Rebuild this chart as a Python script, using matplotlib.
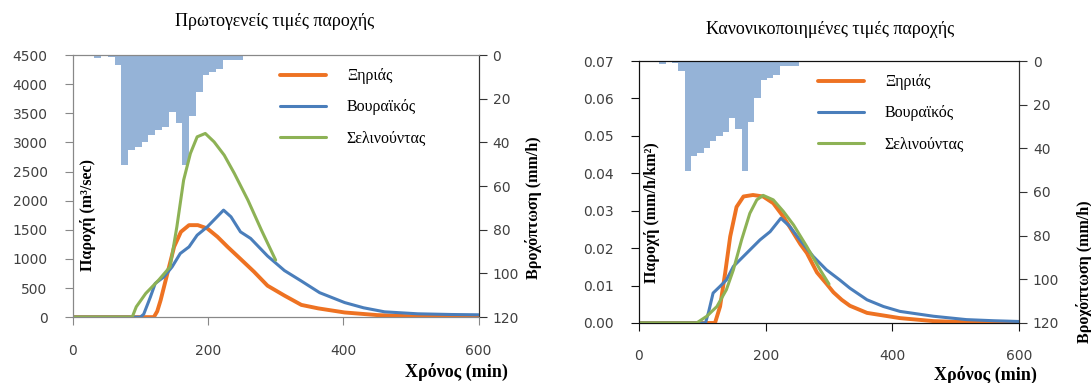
import matplotlib
matplotlib.use("Agg")
import matplotlib.pyplot as plt

# rainfall intensity (mm/h), bins of 10 min, same storm for both panels
rain_t = [32, 42, 52, 62, 72, 82, 92, 102, 112, 122, 132, 142, 152, 162,
          172, 182, 192, 202, 212, 222, 232, 242]
rain_i = [1.2, 0, 0.9, 4.7, 50.5, 43.4, 42.2, 39.9, 36.8, 34.5, 32.7, 26.1,
          31.2, 50.5, 28.1, 17.0, 8.9, 7.8, 6.3, 2.1, 2.1, 2.1]

# raw discharge (m3/sec)
xir_t = [0, 120, 125, 130, 140, 150, 160, 172, 185, 199, 214, 229, 248, 268,
         288, 313, 338, 363, 402, 450, 500, 550, 600]
xir_q = [0, 0, 100, 290, 750, 1210, 1465, 1580, 1580, 1523, 1380, 1207, 1000,
         780, 540, 370, 210, 150, 80, 35, 15, 8, 5]
vou_t = [0, 100, 105, 115, 122, 135, 147, 159, 172, 184, 199, 211, 223, 234,
         248, 263, 288, 313, 338, 365, 402, 430, 461, 510, 560, 600]
vou_q = [0, 0, 50, 349, 578, 692, 864, 1093, 1207, 1408, 1551, 1694, 1838,
         1723, 1465, 1352, 1050, 800, 620, 420, 250, 160, 91, 57, 45, 40]
sel_t = [0, 88, 94, 108, 127, 144, 154, 164, 174, 184, 196, 209, 224, 239,
         259, 279, 300]
sel_q = [0, 0, 177, 407, 635, 864, 1551, 2353, 2811, 3097, 3155, 3011, 2782,
         2468, 2010, 1494, 979]

# normalised discharge (mm/h/km2)
xir_tn = [0, 120, 128, 136, 144, 154, 165, 180, 196, 212, 228, 244, 255, 265,
          281, 296, 307, 320, 333, 360, 412, 465, 520, 600]
xir_qn = [0, 0, 0.0044, 0.0133, 0.0231, 0.031, 0.0338, 0.0342, 0.0338, 0.032,
          0.0284, 0.024, 0.021, 0.0187, 0.0135, 0.0105, 0.0082, 0.0062,
          0.0046, 0.0027, 0.0013, 0.0005, 0.0002, 0]
vou_tn = [0, 105, 110, 117, 128, 138, 149, 162, 175, 191, 207, 224, 238, 254,
          275, 296, 317, 333, 360, 386, 412, 465, 517, 560, 600]
vou_qn = [0, 0, 0.003, 0.008, 0.0098, 0.0115, 0.0151, 0.0173, 0.0195, 0.0222,
          0.0244, 0.028, 0.0258, 0.0222, 0.0178, 0.0142, 0.0115, 0.0093,
          0.0062, 0.0044, 0.0031, 0.0018, 0.0009, 0.0006, 0.0004]
sel_tn = [0, 91, 107, 123, 138, 149, 162, 175, 186, 196, 212, 228, 244, 265,
          286, 300]
sel_qn = [0, 0, 0.0018, 0.0044, 0.0089, 0.0142, 0.0222, 0.0293, 0.0329,
          0.0341, 0.0329, 0.0298, 0.0262, 0.0204, 0.0142, 0.0104]

names = ['Ξηριάς', 'Βουραϊκός', 'Σελινούντας']
colors = ['#EE7222', '#4A7EBB', '#8DB255']
widths = [2.8, 2.2, 2.2]

serif = 'Liberation Serif'
tick_col = '#404040'

fig = plt.figure(figsize=(10.91, 3.83), dpi=100)


def panel(rect, series, ymax, ystep, yfmt, ylabel, spine_col, leg_x,
          ylab_xy, rlab_x, rlab_y):
    ax = fig.add_axes(rect)
    ax2 = ax.twinx()
    ax2.bar(rain_t, rain_i, width=10, align='edge', color='#95B3D7', linewidth=0)
    ax2.set_ylim(120, 0)
    ax2.set_yticks(range(0, 121, 20))
    ax.set_zorder(ax2.get_zorder() + 1)
    ax.patch.set_visible(False)

    for (t, q), name, c, w in zip(series, names, colors, widths):
        ax.plot(t, q, color=c, lw=w, label=name, solid_capstyle='round')

    ax.set_xlim(0, 600)
    ax.set_ylim(0, ymax)
    ax.set_xticks([0, 200, 400, 600])
    n = int(round(ymax / ystep))
    ax.set_yticks([i * ystep for i in range(n + 1)])
    ax.set_yticklabels([yfmt.format(i * ystep) for i in range(n + 1)])

    ax.tick_params(axis='y', direction='out', length=6, pad=12, labelsize=10,
                   labelcolor=tick_col, color=spine_col)
    ax.tick_params(axis='x', direction='out', length=6, pad=13, labelsize=10,
                   labelcolor=tick_col, color=spine_col)
    ax2.tick_params(axis='y', direction='out', length=6, pad=4, labelsize=10,
                    labelcolor=tick_col, color='#333333')
    for a in (ax, ax2):
        for s in ('left', 'bottom', 'top'):
            a.spines[s].set_color(spine_col)
        a.spines['right'].set_color('#333333')

    ax.legend(loc='upper left', bbox_to_anchor=(leg_x, 0.95), frameon=False,
              borderaxespad=0, borderpad=0, handlelength=2.9,
              handletextpad=1.3, labelspacing=0.95,
              prop={'family': serif, 'size': 11.5})

    ax.text(ylab_xy[0], ylab_xy[1], ylabel, transform=ax.transAxes, rotation=90,
            ha='center', va='center', family=serif, fontweight='bold', fontsize=11.5)
    fig.text(rlab_x, rlab_y, 'Βροχόπτωση (mm/h)', rotation=90, ha='center',
             va='center', family=serif, fontweight='bold', fontsize=11.5)
    return ax


ax1 = panel([0.0666, 0.172, 0.3721, 0.684],
            [(xir_t, xir_q), (vou_t, vou_q), (sel_t, sel_q)],
            4500, 500, '{:.0f}', 'Παροχή (m³/sec)', '#888888', 0.51,
            (0.038, 0.39), 0.489, 0.457)
ax2 = panel([0.5857, 0.1567, 0.3483, 0.684],
            [(xir_tn, xir_qn), (vou_tn, vou_qn), (sel_tn, sel_qn)],
            0.07, 0.01, '{:.2f}', 'Παροχή (mm/h/km²)', '#111111', 0.47,
            (0.035, 0.42), 0.994, 0.29)

fig.text(0.252, 0.943, 'Πρωτογενείς τιμές παροχής', ha='center', va='center',
         family=serif, fontsize=13)
fig.text(0.761, 0.922, 'Κανονικοποιημένες τιμές παροχής', ha='center',
         va='center', family=serif, fontsize=13)
fig.text(0.418, 0.03, 'Χρόνος (min)', ha='center', va='center', family=serif,
         fontweight='bold', fontsize=13)
fig.text(0.903, 0.022, 'Χρόνος (min)', ha='center', va='center', family=serif,
         fontweight='bold', fontsize=13)

fig.savefig('out.png', dpi=100)
